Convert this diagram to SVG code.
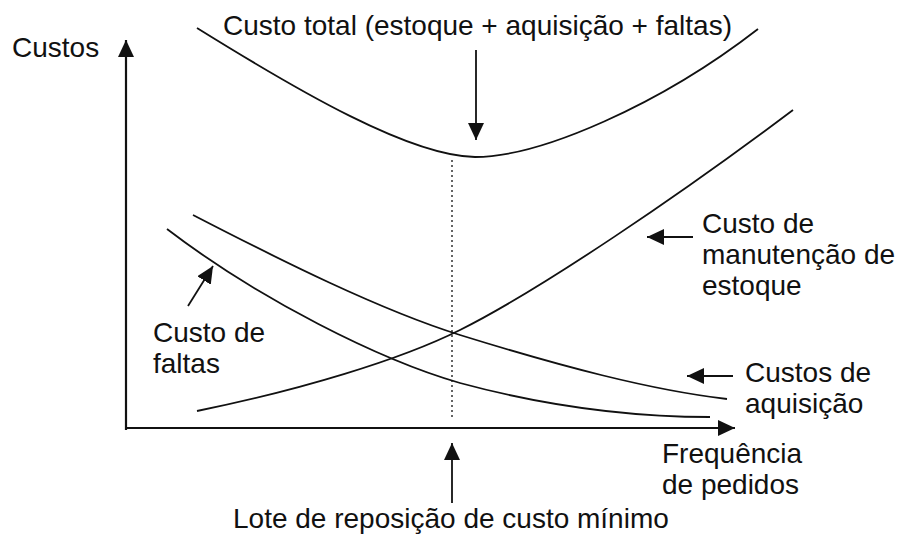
<svg xmlns="http://www.w3.org/2000/svg" width="898" height="539" viewBox="0 0 898 539">
<style>
.t{font-family:"Liberation Sans",Arial,sans-serif;font-size:28px;fill:#111}
.c{fill:none;stroke:#111;stroke-width:1.8}
.ax{fill:none;stroke:#111;stroke-width:2.2}
.ar{fill:none;stroke:#111;stroke-width:1.8;marker-end:url(#ah)}
</style>
<defs>
<marker id="ah" markerUnits="userSpaceOnUse" markerWidth="18" markerHeight="18" refX="17" refY="8" orient="auto">
<path d="M0,0 L17,8 L0,16 z" fill="#111"/>
</marker>
</defs>
<rect width="898" height="539" fill="#fff"/>
<g id="axes">
<path class="ax" d="M126,430 L126,40" marker-end="url(#ah)"/>
<path class="ax" d="M125,428 L735,428" marker-end="url(#ah)"/>
<text class="t" x="12" y="57">Custos</text>
</g>
<g id="curves">
<path id="total" class="c" d="M197,28 C300,92 410,156 475,157 C540,157 660,105 758,29"/>
<path id="faltas" class="c" d="M167,229 C260,300 380,360 460,383 C560,410 640,417 710,417"/>
<path id="aquisicao" class="c" d="M193,215 C280,260 380,310 460,335 C560,366 650,390 727,399"/>
<path id="manutencao" class="c" d="M197,411 C300,390 400,360 460,330 C540,290 680,195 793,110"/>
<line x1="452" y1="160" x2="452" y2="418" stroke="#111" stroke-width="1.3" stroke-dasharray="2,3"/>
</g>
<g id="connectors">
<path class="ar" d="M476,50 L476,140"/>
<path class="ar" d="M693,237 L647,237"/>
<path class="ar" d="M733,376 L687,376"/>
<path class="ar" d="M188,306 L213,266"/>
<path class="ar" d="M452,503 L452,443"/>
</g>
<g id="label-total"><text class="t" x="223" y="35">Custo total (estoque + aquisição + faltas)</text></g>
<g id="label-manutencao"><text class="t" x="702" y="233">Custo de</text><text class="t" x="702" y="264">manutenção de</text><text class="t" x="702" y="295">estoque</text></g>
<g id="label-faltas"><text class="t" x="153" y="342">Custo de</text><text class="t" x="153" y="373">faltas</text></g>
<g id="label-aquisicao"><text class="t" x="745" y="382">Custos de</text><text class="t" x="745" y="413">aquisição</text></g>
<g id="label-freq"><text class="t" x="662" y="463">Frequência</text><text class="t" x="662" y="494">de pedidos</text></g>
<g id="label-lote"><text class="t" x="233" y="528">Lote de reposição de custo mínimo</text></g>
</svg>
